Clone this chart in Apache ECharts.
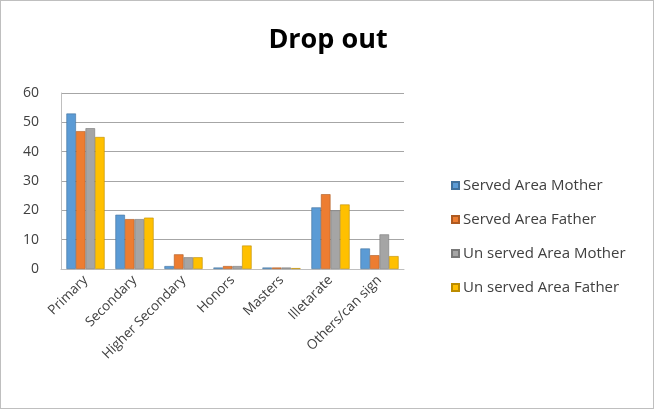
<!DOCTYPE html>
<html><head><meta charset="utf-8">
<script src="https://cdn.jsdelivr.net/npm/echarts@6/dist/echarts.min.js"></script>
<style>html,body{margin:0;padding:0;background:#fff;}#c{width:654px;height:409px;box-sizing:border-box;border:1px solid #bfbfbf;}</style>
</head><body><div id="c"></div>
<script>
const categories = ["Primary","Secondary","Higher Secondary","Honors","Masters","Illetarate","Others/can sign"];
const seriesNames = ["Served Area Mother","Served Area Father","Un served Area Mother","Un served Area Father"];
const servedMother = [53, 18.5, 1, 0.5, 0.5, 21, 7];
const servedFather = [47, 17, 5, 1, 0.5, 25.5, 4.7];
const unservedMother = [48, 17, 4, 1, 0.5, 20, 11.8];
const unservedFather = [45, 17.5, 4, 8, 0.3, 22, 4.4];
const yTicks = {min: 0, max: 60, interval: 10};
const colors = ["#5B9BD5","#ED7D31","#A5A5A5","#FFC000"];
const borders = ["#41719C","#AE5A21","#787878","#BC8C00"];
const allData = [servedMother, servedFather, unservedMother, unservedFather];
const font = 'Open Sans';

const chart = echarts.init(document.getElementById('c'));
chart.setOption({
  animation: false,
  title: {text: "Drop out", left: 322, top: 21, textAlign: 'center',
    textStyle: {fontFamily: font, fontSize: 27, fontWeight: 'bold', color: '#000'}},
  grid: {left: 60, right: 249, top: 92, bottom: 139},
  legend: {orient: 'vertical', left: 445, top: 172, itemGap: 19, itemWidth: 7, itemHeight: 7,
    icon: 'rect', data: seriesNames,
    textStyle: {fontFamily: font, fontSize: 15, color: '#404040', padding: [0,0,0,-1]}},
  xAxis: {type: 'category', data: categories,
    axisLine: {lineStyle: {color: '#bfbfbf'}}, axisTick: {show: false},
    axisLabel: {rotate: 45, interval: 0, fontFamily: font, fontSize: 13.5, color: '#404040', margin: 9}},
  yAxis: {type: 'value', min: yTicks.min, max: yTicks.max, interval: yTicks.interval,
    axisLine: {show: true, lineStyle: {color: '#bfbfbf'}}, axisTick: {show: false},
    splitLine: {lineStyle: {color: '#a6a6a6'}},
    axisLabel: {fontFamily: font, fontSize: 14, color: '#404040', margin: 22}},
  series: seriesNames.map((n, i) => ({
    name: n, type: 'bar', data: allData[i], barGap: '0%', barCategoryGap: '22%',
    itemStyle: {color: colors[i], borderColor: borders[i], borderWidth: 0.6}
  }))
});
</script></body></html>
